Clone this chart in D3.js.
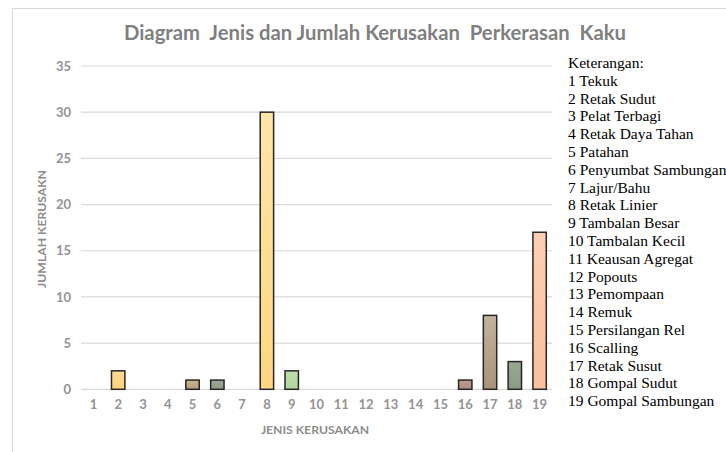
<!DOCTYPE html>
<html>
<head>
<meta charset="utf-8">
<script src="https://cdn.jsdelivr.net/npm/d3@7"></script>
<style>
  html, body { margin: 0; padding: 0; background: #fff; }
  svg { display: block; }
</style>
</head>
<body>
<svg id="chart" width="726" height="452"></svg>
<script>
const categories = ["1","2","3","4","5","6","7","8","9","10","11","12","13","14","15","16","17","18","19"];
const values = [0, 2, 0, 0, 1, 1, 0, 30, 2, 0, 0, 0, 0, 0, 0, 1, 8, 3, 17];
const yTicks = [0, 5, 10, 15, 20, 25, 30, 35];
const legendTitle = "Keterangan:";
const legendItems = ["1 Tekuk","2 Retak Sudut","3 Pelat Terbagi","4 Retak Daya Tahan","5 Patahan","6 Penyumbat Sambungan","7 Lajur/Bahu","8 Retak Linier","9 Tambalan Besar","10 Tambalan Kecil","11 Keausan Agregat","12 Popouts","13 Pemompaan","14 Remuk","15 Persilangan Rel","16 Scalling","17 Retak Susut","18 Gompal Sudut","19 Gompal Sambungan"];
const barTop = ["#FFDFA0","#FFDA94","#FFDC98","#FFDC98","#C8B393","#9AA993","#FFDC98","#FFE5A8","#BEDDAB","#FFDC98","#FFDC98","#FFDC98","#FFDC98","#FFDC98","#FFDC98","#BE9C94","#C2B39C","#98A892","#FCCFB4"];
const barBottom = ["#FFD584","#FFD27C","#FFD584","#FFD584","#B59E7C","#8C9C84","#FFD584","#FFD680","#B0D59B","#FFD584","#FFD584","#FFD584","#FFD584","#FFD584","#FFD584","#B08A82","#A99377","#8A9A83","#FBBF9B"];
const titleText = "Diagram  Jenis dan Jumlah Kerusakan  Perkerasan  Kaku";
const xTitle = "JENIS KERUSAKAN";
const yTitle = "JUMLAH KERUSAKN";

const svg = d3.select("#chart");
const plotL = 81, plotR = 552, plotT = 66, plotB = 389.3;

// chart area border
svg.append("rect").attr("x", 12.5).attr("y", 8.5).attr("width", 800).attr("height", 500)
  .attr("fill", "#fff").attr("stroke", "#d9d9d9").attr("stroke-width", 1);

const x = d3.scaleBand().domain(categories).range([plotL, plotR]).paddingInner(0.46).paddingOuter(0.23);
const y = d3.scaleLinear().domain([0, 35]).range([plotB, plotT]);

// gridlines
svg.append("g").selectAll("line").data(yTicks).join("line")
  .attr("x1", plotL).attr("x2", plotR)
  .attr("y1", d => y(d)).attr("y2", d => y(d))
  .attr("stroke", "#d9d9d9").attr("stroke-width", 1.2);

// gradients
const defs = svg.append("defs");
categories.forEach((c, i) => {
  const g = defs.append("linearGradient").attr("id", "g" + i).attr("x1", 0).attr("x2", 0).attr("y1", 0).attr("y2", 1);
  g.append("stop").attr("offset", "0%").attr("stop-color", barTop[i]);
  g.append("stop").attr("offset", "100%").attr("stop-color", barBottom[i]);
});

// bars
const barData = categories.map((c, i) => ({ c, v: values[i], i })).filter(d => d.v > 0);
svg.append("g").selectAll("rect").data(barData).join("rect")
  .attr("x", d => x(d.c))
  .attr("y", d => y(d.v))
  .attr("width", x.bandwidth())
  .attr("height", d => y(0) - y(d.v))
  .attr("fill", d => "url(#g" + d.i + ")")
  .attr("stroke", "#262626").attr("stroke-width", 1.5);

// axes
const xAxis = d3.axisBottom(x).tickSize(0).tickPadding(10);
const gx = svg.append("g").attr("transform", `translate(0,${plotB})`).call(xAxis);
gx.select(".domain").remove();
gx.selectAll("text").attr("font-family", "Lato, 'Open Sans', sans-serif").attr("font-size", 13)
  .attr("font-weight", 700).attr("fill", "#939393");

const yAxis = d3.axisLeft(y).tickValues(yTicks).tickSize(0).tickPadding(10);
const gy = svg.append("g").attr("transform", `translate(${plotL},0)`).call(yAxis);
gy.select(".domain").remove();
gy.selectAll("text").attr("font-family", "Lato, 'Open Sans', sans-serif").attr("font-size", 13)
  .attr("font-weight", 700).attr("fill", "#939393");

// title
svg.append("text").attr("x", 375).attr("y", 40).attr("text-anchor", "middle")
  .attr("font-family", "Lato, 'Open Sans', sans-serif").attr("font-size", 20.3).attr("font-weight", 700)
  .attr("fill", "#7f7f7f").style("white-space", "pre").text(titleText);

// axis titles
svg.append("text").attr("x", 315).attr("y", 434).attr("text-anchor", "middle")
  .attr("font-family", "Lato, 'Open Sans', sans-serif").attr("font-size", 12.2).attr("font-weight", 700)
  .attr("fill", "#8c8c8c").text(xTitle);

svg.append("text").attr("transform", "translate(46,229) rotate(-90)").attr("text-anchor", "middle")
  .attr("font-family", "Lato, 'Open Sans', sans-serif").attr("font-size", 12.2).attr("font-weight", 700)
  .attr("fill", "#8c8c8c").text(yTitle);

// legend
const lg = svg.append("g").attr("font-family", "'Liberation Serif', 'Times New Roman', serif")
  .attr("font-size", 15.5).attr("fill", "#000");
lg.append("text").attr("x", 568).attr("y", 68).text(legendTitle);
lg.selectAll("text.item").data(legendItems).join("text").attr("class", "item")
  .attr("x", 568).attr("y", (d, i) => 68 + (i + 1) * 17.8).text(d => d);
</script>
</body>
</html>
